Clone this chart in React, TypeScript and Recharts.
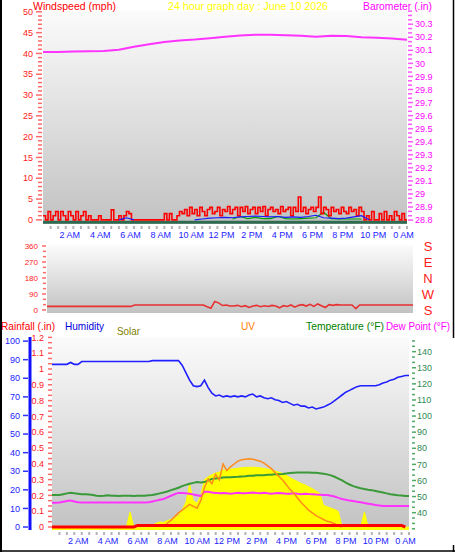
import React from "react";
import {
  ComposedChart,
  Line,
  Area,
  XAxis,
  YAxis,
  CartesianGrid,
  ReferenceLine,
} from "recharts";

const FONT = '"Liberation Sans", Arial, Helvetica, sans-serif';

// time axis: half-hour marks, label every two hours
const timeLabels = ["", "", "2 AM", "", "4 AM", "", "6 AM", "", "8 AM", "", "10 AM", "", "12 PM", "", "2 PM", "", "4 PM", "", "6 PM", "", "8 PM", "", "10 PM", "", "0 AM"];
const halfHourTicks = Array.from({ length: 48 }, (_, i) => (i + 1) / 2);

// wind speed (mph), one reading every 10 minutes
const windSpeed = [
  1, 0, 2, 0, 1, 2,
  0, 2, 1, 0, 2, 1,
  0, 2, 0, 1, 2, 0,
  1, 0, 0, 0, 1, 0,
  0, 0, 0, 2.4, 0, 0,
  1, 0, 1, 2, 1.5, 0,
  0, 0, 0, 0, 0, 0,
  0, 0, 0, 0, 0, 0,
  1.5, 0, 1.5, 0, 0, 1,
  2, 1.5, 2.5, 1, 3, 1.5,
  2.5, 1, 3, 2, 1, 2.5,
  3, 1.5, 2, 3, 1, 2.5,
  2, 3.2, 1.5, 2.5, 3, 1,
  3, 2, 3.2, 1.5, 2.5, 3,
  1.5, 3, 2, 3.2, 1, 2.5,
  3, 2, 2.5, 1.5, 3.2, 2,
  2.5, 3, 1, 3, 2, 5.5,
  2, 3, 1.5, 2.5, 3, 2,
  3, 5.5, 1.5, 3, 2.5, 1,
  3, 2, 2.5, 1.5, 3, 2,
  1.5, 3, 2, 2.5, 1, 3,
  2, 0, 1, 0, 2, 0,
  0, 1.5, 0, 2, 0, 1,
  0, 2, 1, 0, 1.5, 0,
  0,
];

// half-hourly average and lull speeds (mph)
const windAvg = [
  null, null, null, null, null, null, null, null, null, null, 0, 0.5, 0,
  null, null, null, null, null, null, null, 0, 0.2, 0.4, 0.5, 0.6, 0.5,
  0.7, 0.8, 0.9, 0.8, 0.7, 0.8, 0.6, 0.7, 0.6, 0.8, 1.1, 0.5, 0.4, 0.3,
  0.4, 0.7, 1.0, 0, null, null, null, null, null,
];
const windLull = [
  null, null, null, null, null, null, null, null, null, null, null, null, null,
  null, null, null, null, null, null, null, null, null, null, null, null, 0.2,
  0.8, 0.3, 0.6, 0.3, 0.3, 0.8, 0.3, 0.2, 0.3, 0.4, 0.5, 1.8, 0.3, 0.2,
  0.2, 0.2, 0.2, null, null, null, null, null, null,
];

// hourly barometer (in)
const barometer = [
  30.088, 30.088, 30.09, 30.092, 30.094, 30.105, 30.128, 30.146, 30.164, 30.175,
  30.182, 30.192, 30.203, 30.214, 30.219, 30.219, 30.216, 30.212, 30.204, 30.211,
  30.21, 30.2, 30.196, 30.19, 30.18,
];

const speedLabels = [0, 5, 10, 15, 20, 25, 30, 35, 40, 45, 50];
const speedTicks = Array.from({ length: 51 }, (_, i) => i);
const baroLabels = [28.8, 28.9, 29, 29.1, 29.2, 29.3, 29.4, 29.5, 29.6, 29.7, 29.8, 29.9, 30, 30.1, 30.2, 30.3];
const baroTicks = Array.from({ length: 49 }, (_, i) => +(28.8 + i / 30).toFixed(4));

// wind direction (degrees), every 15 minutes
const windDir = [
  20, 20, 20, 20, 20, 20, 20, 20, 20, 20, 20, 20, 20, 20, 20, 20, 20, 20, 20, 20, 20, 20, 20,
  28, 28, 28, 28, 28, 28, 28, 28, 28, 28, 28, 28, 28, 28, 28, 28, 28, 28, 28,
  18, 10, 48, 40, 25, 28, 22,
  22, 26, 18, 24, 14, 22, 26, 18, 24, 20, 26, 22, 12, 24, 20, 28, 16, 26, 30, 22,
  32, 20, 34, 24, 14, 30, 26, 30, 28, 28, 28, 28, 8, 28, 28,
  28, 28, 28, 28, 28, 28, 28, 28, 28, 28, 28, 28, 28,
];
const dirLabels = [0, 90, 180, 270, 360];
const dirTicks = Array.from({ length: 13 }, (_, i) => i * 30);
const compassLabels = ["S", "W", "N", "E", "S"];

// bottom panel, every 15 minutes
const humidity = [
  87.5, 87.5, 87.5, 87.5, 87.5, 88.5, 87.5, 87.5,
  89, 89, 89, 89, 89, 89, 89, 89, 89, 89, 89, 89, 89, 89, 89, 89, 89, 89, 89,
  89.5, 89.5, 89.5, 89.5, 89.5, 89.5, 89.5, 89.5,
  87, 83, 79, 76, 75.5, 76, 79, 75, 72,
  70.5, 71, 70, 70.5, 70, 70.5, 70, 70.5, 70, 71, 71.5, 70,
  70.5, 69.5, 69, 69.5, 68.5, 68, 67, 67.5, 66.5, 65.5, 66, 65,
  65, 64, 64.5, 63.5, 64, 64.5, 65.5, 66.5, 68, 69.5, 71, 72.5,
  73.5, 74.5, 75.5, 76, 76, 76, 76, 76, 76.5, 77.5, 78, 79,
  79.5, 80.5, 81, 81.5, 81.5,
];
const temperature = [
  51, 51, 51, 51.5, 52, 52.3, 52, 51.8,
  51.5, 51.5, 51.3, 51, 50.5, 50.3, 50.5, 50.8,
  50.5, 50.5, 50.3, 50.5, 50.5, 50.5, 50.3, 50.5,
  50.5, 50.5, 50.8, 51, 51.5, 52, 52.5, 53.2,
  54, 54.7, 55.5, 56.5, 57.3, 58, 58.5, 59,
  58.8, 59, 60, 61, 61.3, 61.5, 61.8, 62,
  62, 62.2, 62.3, 62.5, 62.7, 63, 63, 63.2,
  63.3, 63.2, 63.5, 63.5, 63.8, 63.8, 64, 64.3,
  64.6, 64.8, 65, 65, 65, 65, 64.8, 64.8,
  64.5, 64.2, 63.8, 63.2, 62.3, 61.2, 60, 58.7,
  57.5, 56.5, 55.8, 55.2, 54.7, 54.3, 54, 53.5,
  53, 52.5, 52, 51.5, 51.2, 50.8, 50.6, 50.4,
  50.3,
];
const dewPoint = [
  46.2, 46.2, 46.3, 46.8, 47.3, 47.5, 47, 46.5,
  46.3, 46.3, 46.3, 46.3, 46.3, 46.3, 46.3, 46.3,
  46.3, 46.3, 46.3, 46.3, 46.3, 46.3, 46.3, 46.3,
  46.3, 46.3, 46.5, 47, 47.5, 48, 48.5, 49.5,
  50.5, 51.5, 52.3, 52.3, 52, 51.8, 51.3, 50.8,
  50.3, 53, 53, 52.5, 52.3, 52, 52.2, 52,
  51.8, 52, 52.3, 52, 52, 52.3, 52.5, 52.2,
  52, 52.3, 52, 51.8, 52, 52.2, 52, 51.8,
  51.8, 52, 51.7, 51.5, 51.8, 51.6, 51.5, 51.3,
  51.2, 51, 51, 50.5, 50, 49.2, 48.5, 48,
  47.5, 47.2, 46.8, 46.5, 46, 45.6, 45.2, 44.8,
  44.5, 44.2, 44.2, 44.2, 44.2, 44.2, 44.2, 44.2,
  44.2,
];
const uvIndex = [
  null, null, null, null, null, null, null, null, null, null, null, null, null, null, null,
  null, null, null, null, null, null, null, null, null, null, null, null, null, null, null,
  0, 0.4, 0.7, 1.1, 1.5, 1.8, 2.1, 2.4, 2.2, 2.0,
  2.8, 4.2, 5.1, 4.6, 5.6, 5.0, 6.7, 6.0,
  6.4, 6.7, 7.0, 7.15, 7.2, 7.25, 7.2, 7.1,
  7.0, 6.8, 6.5, 6.2, 5.8, 5.4, 5.0, 4.5,
  4.0, 3.6, 3.1, 2.6, 2.2, 1.8, 1.5, 1.2,
  1.0, 0.8, 0.6, 0.5, 0.35, 0.1, 0,
  null, null, null, null, null, null, null, null, null,
  null, null, null, null, null, null, null, null, null,
];
const solar = [
  0, 0, 0, 0, 0, 0, 0, 0, 0, 0, 0, 0, 0, 0, 0, 0, 0, 0, 0, 0, 0,
  160, 0, 0, 0, 0, 0,
  20, 40, 55, 50, 70, 80, 100, 120, 180, 260, 450, 280, 250,
  330, 500, 530, 550, 570, 580, 600, 600,
  610, 615, 620, 625, 628, 630, 630, 628,
  625, 618, 610, 600, 590, 578, 565, 545,
  520, 500, 480, 460, 445, 425, 405, 380,
  355, 230, 215, 200, 185, 165,
  0, 0, 0, 0, 0, 0, 160,
  0, 0, 0, 0, 0, 0, 0, 0, 0, 0, 0, 0,
];
const rainfall = [
  0, 0, 0, 0, 0, 0, 0, 0, 0, 0, 0, 0, 0, 0, 0, 0, 0, 0, 0, 0, 0, 0, 0,
  0.01, 0.01, 0.01, 0.01, 0.01, 0.01, 0.01, 0.01, 0.01, 0.01, 0.01, 0.01, 0.01,
  0.01, 0.01, 0.01, 0.01, 0.01, 0.01, 0.01, 0.01, 0.01, 0.01, 0.01, 0.01, 0.01,
  0.01, 0.01, 0.01, 0.01, 0.01, 0.01, 0.01, 0.01, 0.01, 0.01, 0.01, 0.01, 0.01,
  0.01, 0.01, 0.01, 0.01, 0.01, 0.01, 0.01, 0.01, 0.01, 0.01, 0.01, 0.01, 0.01,
  0.01, 0.01, 0.01, 0.01, 0.01, 0.01, 0.01, 0.01, 0.01, 0.01, 0.01, 0.01, 0.01,
  0.01, 0.01, 0.01, 0.01, 0.01, 0.01, 0.01,
  0,
];

const humLabels = [0, 10, 20, 30, 40, 50, 60, 70, 80, 90, 100];
const rainLabels = [0, 0.1, 0.2, 0.3, 0.4, 0.5, 0.6, 0.7, 0.8, 0.9, 1, 1.1, 1.2];
const rainTicks = Array.from({ length: 37 }, (_, i) => +(i / 30).toFixed(4));
const tempLabels = [40, 50, 60, 70, 80, 90, 100, 110, 120, 130, 140];
const tempTicks = Array.from({ length: 36 }, (_, i) => +(30 + (i * 10) / 3).toFixed(3));

const series = (values: (number | null)[], step: number) =>
  values.map((v, i) => ({ h: i * step, v }));

const near = (list: number[], v: number) => list.some((l) => Math.abs(l - v) < 1e-3);

// dashed axis tick with optional label
function makeDashTick(o: {
  side: "left" | "right";
  color: string;
  labelColor: string;
  labels: number[];
  start: number;
  minorLen: number;
  majorLen: number;
  gap: number;
  fontSize?: number;
}) {
  return (p: any) => {
    const { x, y, payload } = p;
    const v = payload.value;
    const major = near(o.labels, v);
    const dir = o.side === "left" ? -1 : 1;
    const len = major ? o.majorLen : o.minorLen;
    const x0 = x + dir * o.start;
    return (
      <g>
        <line x1={x0} x2={x0 + dir * len} y1={y} y2={y} stroke={o.color} strokeWidth={1.5} />
        {major && (
          <text
            x={x0 + dir * (o.majorLen + o.gap)}
            y={y}
            dy="0.35em"
            textAnchor={o.side === "left" ? "end" : "start"}
            fill={o.labelColor}
            fontSize={o.fontSize ?? 9}
            fontFamily={FONT}
          >
            {String(Math.round(v * 10) / 10)}
          </text>
        )}
      </g>
    );
  };
}

function TimeTick(p: any) {
  const { x, y, payload } = p;
  const h = payload.value;
  const label = Number.isInteger(h) ? timeLabels[h] : "";
  return (
    <g>
      <line x1={x} x2={x} y1={y + 2} y2={y + 5} stroke="#b4b4b4" strokeWidth={2} />
      {label && (
        <text x={x - 3.5} y={y + 14} textAnchor="middle" fill="#2323ff" fontSize={9} fontFamily={FONT}>
          {label}
        </text>
      )}
    </g>
  );
}

function CompassTick(p: any) {
  const { x, y, payload } = p;
  const idx = dirLabels.indexOf(payload.value);
  return (
    <text x={x + 15} y={y} dy="0.36em" textAnchor="middle" fill="#ff1a1a" fontSize={13} fontFamily={FONT}>
      {compassLabels[idx]}
    </text>
  );
}

function PlotGradient({ id }: { id: string }) {
  return (
    <defs>
      <linearGradient id={id} x1="0" y1="0" x2="0" y2="1">
        <stop offset="0" stopColor="#fbfbfb" />
        <stop offset="0.5" stopColor="#dfdfdf" />
        <stop offset="1" stopColor="#c2c2c2" />
      </linearGradient>
    </defs>
  );
}

function WindPanel() {
  return (
    <ComposedChart width={455} height={245} margin={{ top: 11, right: 0, bottom: 5, left: 0 }}>
      <PlotGradient id="bgWind" />
      <CartesianGrid xAxisId="t" yAxisId="speed" horizontal={false} vertical={false} fill="url(#bgWind)" />
      <XAxis
        xAxisId="t"
        type="number"
        dataKey="h"
        domain={[0, 24]}
        allowDataOverflow
        ticks={halfHourTicks}
        interval={0}
        height={16}
        tickSize={0}
        tickMargin={0}
        axisLine={false}
        tickLine={false}
        tick={TimeTick}
      />
      <YAxis
        yAxisId="speed"
        orientation="left"
        width={43}
        type="number"
        domain={[-1, 50.2]}
        allowDataOverflow
        ticks={speedTicks}
        interval={0}
        tickSize={0}
        tickMargin={0}
        axisLine={false}
        tickLine={false}
        tick={makeDashTick({ side: "left", color: "#ff6a6a", labelColor: "#ff2020", labels: speedLabels, start: 1, minorLen: 4, majorLen: 6, gap: 3 })}
      />
      <YAxis
        yAxisId="baro"
        orientation="right"
        width={48}
        type="number"
        domain={[28.77, 30.401]}
        allowDataOverflow
        ticks={baroTicks}
        interval={0}
        tickSize={0}
        tickMargin={0}
        axisLine={false}
        tickLine={false}
        tick={makeDashTick({ side: "right", color: "#ff55ff", labelColor: "#ff00ff", labels: baroLabels, start: 1, minorLen: 4, majorLen: 5, gap: 2 })}
      />
      <ReferenceLine xAxisId="t" yAxisId="speed" y={-0.55} stroke="#2f6b50" strokeWidth={3} />
      <Line xAxisId="t" yAxisId="speed" data={series(windLull, 0.5)} dataKey="v" type="linear" stroke="#00a000" strokeWidth={1.2} dot={false} isAnimationActive={false} />
      <Line xAxisId="t" yAxisId="speed" data={series(windSpeed, 1 / 6)} dataKey="v" type="stepAfter" stroke="#ff0000" strokeWidth={1.6} dot={false} isAnimationActive={false} />
      <Line xAxisId="t" yAxisId="speed" data={series(windAvg, 0.5)} dataKey="v" type="linear" stroke="#1a1aff" strokeWidth={1.2} dot={false} isAnimationActive={false} />
      <Line xAxisId="t" yAxisId="baro" data={series(barometer, 1)} dataKey="v" type="linear" stroke="#ff33ff" strokeWidth={2} dot={false} isAnimationActive={false} />
    </ComposedChart>
  );
}

function DirectionPanel() {
  return (
    <ComposedChart width={455} height={80} margin={{ top: 7, right: 0, bottom: 5, left: 0 }}>
      <PlotGradient id="bgDir" />
      <CartesianGrid xAxisId="t" yAxisId="dir" horizontal={false} vertical={false} fill="url(#bgDir)" />
      <XAxis xAxisId="t" type="number" dataKey="h" domain={[0, 24]} allowDataOverflow hide />
      <YAxis
        yAxisId="dir"
        orientation="left"
        width={47}
        type="number"
        domain={[-17, 365.6]}
        allowDataOverflow
        ticks={dirTicks}
        interval={0}
        tickSize={0}
        tickMargin={0}
        axisLine={false}
        tickLine={false}
        tick={makeDashTick({ side: "left", color: "#ff6a6a", labelColor: "#ff2020", labels: dirLabels, start: 1, minorLen: 3, majorLen: 4, gap: 4, fontSize: 8 })}
      />
      <YAxis
        yAxisId="compass"
        orientation="right"
        width={42}
        type="number"
        domain={[-17, 365.6]}
        allowDataOverflow
        ticks={dirLabels}
        interval={0}
        tickSize={0}
        tickMargin={0}
        axisLine={false}
        tickLine={false}
        tick={CompassTick}
      />
      <Line xAxisId="t" yAxisId="dir" data={series(windDir, 0.25)} dataKey="v" type="linear" stroke="#e83030" strokeWidth={1.6} dot={false} isAnimationActive={false} />
    </ComposedChart>
  );
}

function WeatherPanel() {
  // left axes stack by id: "rain" hugs the plot, "rh" (humidity) sits outside it
  return (
    <ComposedChart width={455} height={224} margin={{ top: 7, right: 0, bottom: 6, left: 0 }}>
      <PlotGradient id="bgWx" />
      <CartesianGrid xAxisId="t" yAxisId="rain" horizontal={false} vertical={false} fill="url(#bgWx)" />
      <XAxis
        xAxisId="t"
        type="number"
        dataKey="h"
        domain={[0, 24]}
        allowDataOverflow
        ticks={halfHourTicks}
        interval={0}
        height={18}
        tickSize={0}
        tickMargin={0}
        axisLine={false}
        tickLine={false}
        tick={TimeTick}
      />
      <YAxis
        yAxisId="rain"
        orientation="left"
        width={22}
        type="number"
        domain={[-0.019, 1.2025]}
        allowDataOverflow
        ticks={rainTicks}
        interval={0}
        tickSize={0}
        tickMargin={0}
        axisLine={false}
        tickLine={false}
        tick={makeDashTick({ side: "left", color: "#ff6a6a", labelColor: "#ff2020", labels: rainLabels, start: 0, minorLen: 4, majorLen: 4, gap: 4 })}
      />
      <YAxis
        yAxisId="rh"
        orientation="left"
        width={30}
        type="number"
        domain={[-1.6, 102.2]}
        allowDataOverflow
        ticks={humLabels}
        interval={0}
        tickSize={0}
        tickMargin={0}
        axisLine={{ stroke: "#1010ff", strokeWidth: 3 }}
        tickLine={false}
        tick={makeDashTick({ side: "left", color: "#3030ff", labelColor: "#2323ff", labels: humLabels, start: 2, minorLen: 5, majorLen: 5, gap: 3 })}
      />
      <YAxis
        yAxisId="temp"
        orientation="right"
        width={46}
        type="number"
        domain={[29.25, 149.1]}
        allowDataOverflow
        ticks={tempTicks}
        interval={0}
        tickSize={0}
        tickMargin={0}
        axisLine={false}
        tickLine={false}
        tick={makeDashTick({ side: "right", color: "#4fa86a", labelColor: "#2f8a55", labels: tempLabels, start: 3, minorLen: 3, majorLen: 4, gap: 1 })}
      />
      <YAxis yAxisId="uv" hide type="number" domain={[-0.32, 20.2]} allowDataOverflow />
      <YAxis yAxisId="solar" hide type="number" domain={[-30, 2000]} allowDataOverflow />
      <Area xAxisId="t" yAxisId="solar" data={series(solar, 0.25)} dataKey="v" type="linear" baseValue="dataMin" stroke="#ffff00" strokeWidth={1} fill="#ffff00" fillOpacity={1} dot={false} isAnimationActive={false} />
      <Line xAxisId="t" yAxisId="temp" data={series(temperature, 0.25)} dataKey="v" type="linear" stroke="#3a9a3a" strokeWidth={2} dot={false} isAnimationActive={false} />
      <Line xAxisId="t" yAxisId="temp" data={series(dewPoint, 0.25)} dataKey="v" type="linear" stroke="#ff33ff" strokeWidth={2} dot={false} isAnimationActive={false} />
      <Line xAxisId="t" yAxisId="rh" data={series(humidity, 0.25)} dataKey="v" type="linear" stroke="#2020ff" strokeWidth={1.6} dot={false} isAnimationActive={false} />
      <Line xAxisId="t" yAxisId="uv" data={series(uvIndex, 0.25)} dataKey="v" type="linear" stroke="#ff8c1a" strokeWidth={1.5} dot={false} isAnimationActive={false} />
      <Line xAxisId="t" yAxisId="rain" data={series(rainfall, 0.25)} dataKey="v" type="linear" stroke="#ff0000" strokeWidth={3} dot={false} isAnimationActive={false} />
    </ComposedChart>
  );
}

// header text squeezed to a fixed width
function Caption({ x, y, w, color, size = 11, children }: { x: number; y: number; w: number; color: string; size?: number; children: string }) {
  return (
    <text x={x} y={y} fill={color} fontFamily={FONT} fontSize={size} textLength={w} lengthAdjust="spacingAndGlyphs">
      {children}
    </text>
  );
}

export default function App() {
  return (
    <div style={{ position: "absolute", left: 0, top: 0, width: 455, height: 554, background: "#ffffff", overflow: "hidden" }}>
      <div style={{ position: "absolute", left: 0, top: 0 }}>
        <WindPanel />
      </div>
      <div style={{ position: "absolute", left: 0, top: 238 }}>
        <DirectionPanel />
      </div>
      <div style={{ position: "absolute", left: 0, top: 330 }}>
        <WeatherPanel />
      </div>
      <svg width={455} height={554} style={{ position: "absolute", left: 0, top: 0, pointerEvents: "none" }}>
        <Caption x={33} y={10} w={83} color="#ff0000">Windspeed (mph)</Caption>
        <Caption x={168} y={10} w={160} color="#ffff00">24 hour graph day : June 10 2026</Caption>
        <Caption x={363} y={10} w={69} color="#ff00ff">Barometer (.in)</Caption>
        <Caption x={1} y={330} w={54} color="#ff0000">Rainfall (.in)</Caption>
        <Caption x={65} y={330} w={39} color="#0000dd">Humidity</Caption>
        <Caption x={117} y={335} w={23} color="#808000">Solar</Caption>
        <Caption x={241} y={330} w={14} color="#ff8000">UV</Caption>
        <Caption x={306} y={330} w={78} color="#008000">Temperature (°F)</Caption>
        <Caption x={386} y={330} w={64} color="#ff00ff" size={10}>Dew Point (°F)</Caption>
        <line x1={1} y1={0} x2={1} y2={552} stroke="#000" strokeWidth={2} />
        <line x1={453.5} y1={0} x2={453.5} y2={338} stroke="#000" strokeWidth={1.5} />
        <line x1={453.5} y1={545} x2={453.5} y2={552} stroke="#000" strokeWidth={1.5} />
        <line x1={0} y1={551} x2={455} y2={551} stroke="#000" strokeWidth={1.5} />
      </svg>
    </div>
  );
}
